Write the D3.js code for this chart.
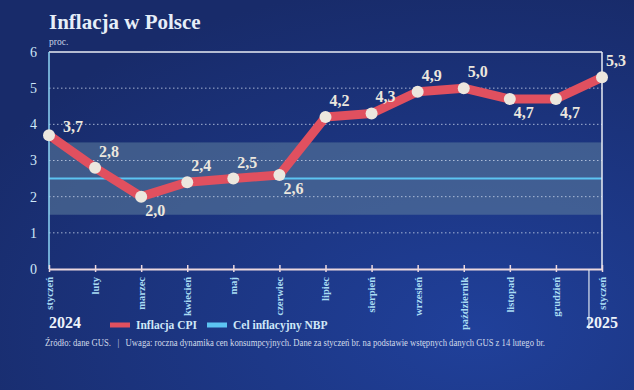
<!DOCTYPE html>
<html>
<head>
<meta charset="utf-8">
<script src="https://cdn.jsdelivr.net/npm/d3@7"></script>
<style>
  html, body { margin: 0; padding: 0; background: #1a2e6c; }
  svg { display: block; }
</style>
</head>
<body>
<div id="chart"></div>
<script>
const months = ["styczeń", "luty", "marzec", "kwiecień", "maj", "czerwiec", "lipiec",
  "sierpień", "wrzesień", "październik", "listopad", "grudzień", "styczeń"];
const cpi = [3.7, 2.8, 2.0, 2.4, 2.5, 2.6, 4.2, 4.3, 4.9, 5.0, 4.7, 4.7, 5.3];
const target = 2.5;
const targetBand = [1.5, 3.5];
const yTicks = [0, 1, 2, 3, 4, 5, 6];
const years = ["2024", "2025"];

const W = 634, H = 390;
const margin = { top: 52, right: 32, bottom: 121, left: 49 };
const width = W - margin.left - margin.right,
  height = H - margin.top - margin.bottom;

const serif = "'Liberation Serif', 'DejaVu Serif', serif";

const svg = d3.select("#chart").append("svg")
  .attr("width", W).attr("height", H);

// tło
const defs = svg.append("defs");
const grad = defs.append("radialGradient").attr("id", "bg")
  .attr("cx", "75%").attr("cy", "85%").attr("r", "90%");
grad.append("stop").attr("offset", "0%").attr("stop-color", "#20409a");
grad.append("stop").attr("offset", "100%").attr("stop-color", "#182b6a");
svg.append("rect").attr("width", W).attr("height", H).attr("fill", "url(#bg)");

svg.append("text")
  .attr("x", 49).attr("y", 29)
  .attr("font-family", serif).attr("font-weight", "bold").attr("font-size", 21)
  .attr("fill", "#e6eef8")
  .text("Inflacja w Polsce");
svg.append("text")
  .attr("x", 49).attr("y", 45)
  .attr("font-family", serif).attr("font-size", 9.5)
  .attr("fill", "#c9d3e6")
  .text("proc.");

const g = svg.append("g")
  .attr("transform", "translate(" + margin.left + "," + margin.top + ")");

const x = d3.scalePoint()
  .domain(d3.range(months.length))
  .range([0, width]);
const y = d3.scaleLinear()
  .domain([0, 6])
  .range([height, 0]);

// pasmo celu
g.append("rect")
  .attr("x", 0).attr("width", width)
  .attr("y", y(targetBand[1]))
  .attr("height", y(targetBand[0]) - y(targetBand[1]))
  .attr("fill", "#5e7f9e").attr("opacity", 0.55);

// siatka
g.selectAll(".grid")
  .data(yTicks.filter(d => d > 0 && d < 6))
  .enter().append("line")
  .attr("x1", 0).attr("x2", width)
  .attr("y1", d => y(d)).attr("y2", d => y(d))
  .attr("stroke", "#c8d4ea").attr("stroke-width", 1)
  .attr("stroke-dasharray", "1.5,2.5").attr("opacity", 0.8);

// cel NBP
g.append("line")
  .attr("x1", 0).attr("x2", width)
  .attr("y1", y(target)).attr("y2", y(target))
  .attr("stroke", "#5cc4f2").attr("stroke-width", 2);

// ramka
g.append("line").attr("x1", 0).attr("x2", width).attr("y1", 0).attr("y2", 0)
  .attr("stroke", "#e8ecf4").attr("stroke-width", 1.5);
g.append("line").attr("x1", width).attr("x2", width).attr("y1", 0).attr("y2", height)
  .attr("stroke", "#e8ecf4").attr("stroke-width", 1.5);
g.append("line").attr("x1", 0).attr("x2", 0).attr("y1", 0).attr("y2", height)
  .attr("stroke", "#8fd6f6").attr("stroke-width", 1.5);

// oś Y
const yAxis = g.append("g")
  .call(d3.axisLeft(y).tickValues(yTicks).tickFormat(d3.format("d")).tickSize(0).tickPadding(12));
yAxis.select(".domain").remove();
yAxis.selectAll("text")
  .attr("font-family", serif).attr("font-size", 14)
  .attr("fill", "#cfe8f8");

// oś X
const xAxis = g.append("g")
  .attr("transform", "translate(0," + height + ")")
  .call(d3.axisBottom(x).tickSizeInner(-4).tickSizeOuter(0).tickFormat(i => months[i]));
xAxis.select(".domain").attr("stroke", "#ecd8de").attr("stroke-width", 2);
xAxis.selectAll(".tick line").attr("stroke", "#ecd8de").attr("stroke-width", 1.5)
  .attr("y1", -4).attr("y2", 3);
xAxis.selectAll("text")
  .attr("font-family", serif).attr("font-size", 10.5).attr("font-weight", "bold")
  .attr("fill", "#a9dcf4")
  .attr("transform", "rotate(-90)")
  .attr("text-anchor", "end")
  .attr("dy", "0.32em")
  .attr("x", -8).attr("y", 0);

// separator lat
const sepX = (x(months.length - 2) + x(months.length - 1)) / 2 + 10;
g.append("line")
  .attr("x1", sepX).attr("x2", sepX)
  .attr("y1", height).attr("y2", height + 60)
  .attr("stroke", "#dfe6f2").attr("stroke-width", 1.2);

// linia CPI
g.append("path")
  .datum(cpi)
  .attr("fill", "none")
  .attr("stroke", "#e0505f")
  .attr("stroke-width", 9)
  .attr("stroke-linejoin", "round")
  .attr("d", d3.line().x((d, i) => x(i)).y(d => y(d)));

g.selectAll(".pt")
  .data(cpi)
  .enter().append("circle")
  .attr("cx", (d, i) => x(i))
  .attr("cy", d => y(d))
  .attr("r", 6)
  .attr("fill", "#ece7de");

// etykiety wartości
const below = new Set([2, 5, 10, 11]);
g.selectAll(".lbl")
  .data(cpi)
  .enter().append("text")
  .attr("x", (d, i) => x(i) + (i === 0 ? 14 : 4))
  .attr("y", (d, i) => y(d) + (below.has(i) ? 19 : (i === 0 ? -3 : -11)))
  .attr("font-family", serif).attr("font-weight", "bold").attr("font-size", 16)
  .attr("fill", "#ece7de")
  .text(d => d.toFixed(1).replace(".", ","));

// lata
svg.append("text")
  .attr("x", 49).attr("y", 328)
  .attr("font-family", serif).attr("font-weight", "bold").attr("font-size", 16)
  .attr("fill", "#eef3fa").text(years[0]);
svg.append("text")
  .attr("x", margin.left + width).attr("y", 328)
  .attr("text-anchor", "middle")
  .attr("font-family", serif).attr("font-weight", "bold").attr("font-size", 16)
  .attr("fill", "#eef3fa").text(years[1]);

// legenda
const legend = [
  { name: "Inflacja CPI", color: "#e0505f", x: 110 },
  { name: "Cel inflacyjny NBP", color: "#5cc4f2", x: 207 }
];
const lg = svg.selectAll(".leg").data(legend).enter().append("g")
  .attr("transform", d => "translate(" + d.x + ",325)");
lg.append("rect").attr("x", 0).attr("y", -2.5).attr("width", 20).attr("height", 5)
  .attr("fill", d => d.color);
lg.append("text").attr("x", 26).attr("y", 4)
  .attr("font-family", serif).attr("font-weight", "bold").attr("font-size", 11.5)
  .attr("fill", "#cfe8f8").text(d => d.name);

// źródło
svg.append("text")
  .attr("x", 45).attr("y", 346)
  .attr("font-family", serif).attr("font-size", 9.4)
  .attr("fill", "#d2dbea")
  .attr("textLength", 500).attr("lengthAdjust", "spacingAndGlyphs")
  .style("white-space", "pre")
  .text("Źródło: dane GUS.   |   Uwaga: roczna dynamika cen konsumpcyjnych. Dane za styczeń br. na podstawie wstępnych danych GUS z 14 lutego br.");
</script>
</body>
</html>
